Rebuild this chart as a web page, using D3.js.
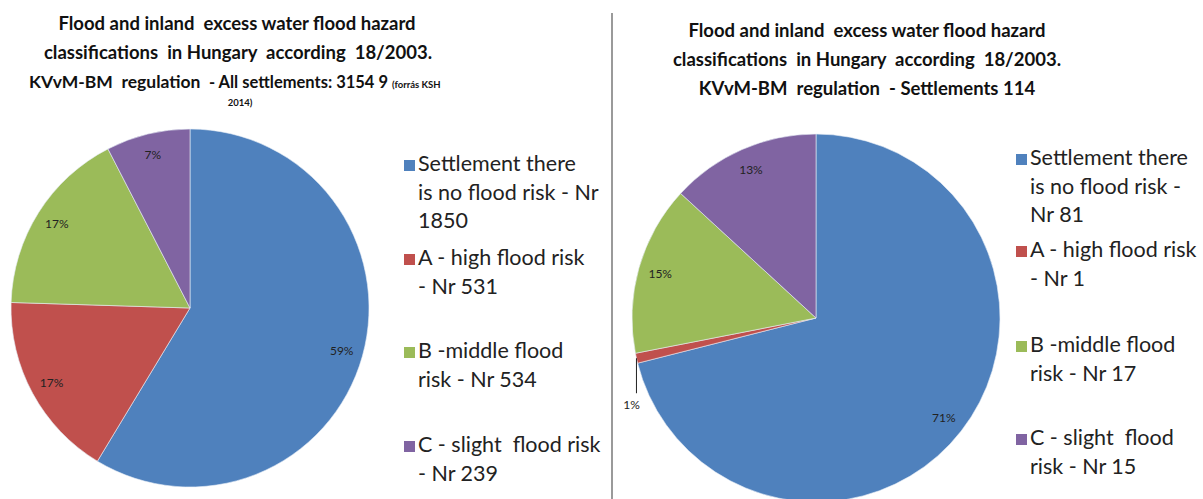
<!DOCTYPE html>
<html>
<head>
<meta charset="utf-8">
<script src="https://cdn.jsdelivr.net/npm/d3@7"></script>
<style>
  body { margin: 0; background: #fff; }
  svg { display: block; font-family: Lato, "Open Sans", sans-serif; }
  text { white-space: pre; }
</style>
</head>
<body>
<div id="chart"></div>
<script>
// categories shared by both pies
const categories = ["none", "A", "B", "C"];
const colors = ["#4f81bd", "#c0504d", "#9bbb59", "#8064a2"];

// left pie: all settlements
const leftValues = [1850, 531, 534, 239];
const leftPct = ["59%", "17%", "17%", "7%"];
const leftLegend = [
  ["Settlement there", "is no flood risk - Nr", "1850"],
  ["A - high flood risk", "- Nr 531"],
  ["B -middle flood", "risk - Nr 534"],
  ["C - slight  flood risk", "- Nr 239"]
];

// right pie: 114 settlements
const rightValues = [81, 1, 17, 15];
const rightPct = ["71%", "1%", "15%", "13%"];
const rightLegend = [
  ["Settlement there", "is no flood risk -", "Nr 81"],
  ["A - high flood risk", "- Nr 1"],
  ["B -middle flood", "risk - Nr 17"],
  ["C - slight  flood", "risk - Nr 15"]
];

const W = 1203, H = 499;

const svg = d3.select("#chart")
  .append("svg")
  .attr("width", W)
  .attr("height", H);

const color = d3.scaleOrdinal().domain(categories).range(colors);

// divider between the two charts
svg.append("line")
  .attr("x1", 612).attr("x2", 612)
  .attr("y1", 13).attr("y2", H)
  .attr("stroke", "#9a9a9a")
  .attr("stroke-width", 2);

// titles
const titleL = svg.append("text")
  .attr("font-weight", "bold")
  .attr("font-size", 18.5)
  .attr("fill", "#111");
titleL.append("tspan").attr("x", 237).attr("y", 30).attr("text-anchor", "middle")
  .text("Flood and inland  excess water flood hazard");
titleL.append("tspan").attr("x", 238).attr("y", 59).attr("text-anchor", "middle")
  .text("classifications  in Hungary  according  18/2003.");
const l3 = svg.append("text")
  .attr("x", 29).attr("y", 88)
  .attr("font-weight", "bold")
  .attr("font-size", 17.5)
  .attr("fill", "#111");
l3.append("tspan").text("KVvM-BM  regulation  ");
l3.append("tspan").attr("font-size", 16.5).text("- All settlements: 3154 9 ");
l3.append("tspan").attr("font-size", 9.5).text("(forrás KSH");
svg.append("text")
  .attr("x", 240).attr("y", 106)
  .attr("text-anchor", "middle")
  .attr("font-size", 9.5).attr("font-weight", "bold")
  .attr("fill", "#111")
  .text("2014)");

const titleR = svg.append("text")
  .attr("font-weight", "bold")
  .attr("font-size", 18.5)
  .attr("fill", "#111")
  .attr("text-anchor", "middle");
["Flood and inland  excess water flood hazard",
 "classifications  in Hungary  according  18/2003.",
 "KVvM-BM  regulation  - Settlements 114"].forEach((t, i) => {
  titleR.append("tspan").attr("x", 867).attr("y", 37 + i * 29).text(t);
});

function drawPie(cfg) {
  const g = svg.append("g")
    .attr("transform", `translate(${cfg.cx}, ${cfg.cy})`);

  const pie = d3.pie().sort(null).value(d => d.value);
  const data = pie(cfg.values.map((v, i) => ({ value: v, cat: categories[i], pct: cfg.pct[i] })));

  const arc = d3.arc().innerRadius(0).outerRadius(cfg.r);
  const labelArc = d3.arc().innerRadius(cfg.r * 0.88).outerRadius(cfg.r * 0.88);

  g.selectAll("path")
    .data(data)
    .join("path")
    .attr("d", arc)
    .attr("fill", d => color(d.data.cat))
    .attr("stroke", "#e8eef6")
    .attr("stroke-width", 0.6);

  data.forEach(d => {
    const share = d.value / d3.sum(cfg.values);
    if (share < 0.03) {
      // tiny slice: label below with a leader line
      const a = (d.startAngle + d.endAngle) / 2;
      const x = cfg.r * Math.sin(a), y = -cfg.r * Math.cos(a);
      g.append("line")
        .attr("x1", x).attr("x2", x)
        .attr("y1", y).attr("y2", y + 35)
        .attr("stroke", "#222").attr("stroke-width", 1);
      g.append("text")
        .attr("x", x - 5).attr("y", y + 51)
        .attr("text-anchor", "middle")
        .attr("font-size", 12).attr("fill", "#222")
        .text(d.data.pct);
    } else {
      const [x, y] = labelArc.centroid(d);
      g.append("text")
        .attr("x", x).attr("y", y)
        .attr("dy", "0.35em")
        .attr("text-anchor", "middle")
        .attr("font-size", 12).attr("fill", "#222")
        .text(d.data.pct);
    }
  });

  // legend
  const lg = svg.append("g");
  cfg.legend.forEach((lines, i) => {
    const y0 = cfg.legendY[i];
    lg.append("rect")
      .attr("x", cfg.legendX - 14).attr("y", y0 - 11)
      .attr("width", 11).attr("height", 11)
      .attr("fill", colors[i]);
    const t = lg.append("text")
      .attr("font-size", 21.5).attr("fill", "#222");
    lines.forEach((ln, j) => {
      t.append("tspan").attr("x", cfg.legendX).attr("y", y0 + j * 28.5).text(ln);
    });
  });
}

drawPie({
  cx: 190, cy: 308, r: 179,
  values: leftValues, pct: leftPct, legend: leftLegend,
  legendX: 418, legendY: [171, 265, 358, 452]
});

drawPie({
  cx: 816, cy: 318, r: 184,
  values: rightValues, pct: rightPct, legend: rightLegend,
  legendX: 1030, legendY: [165, 257, 352, 445]
});
</script>
</body>
</html>
